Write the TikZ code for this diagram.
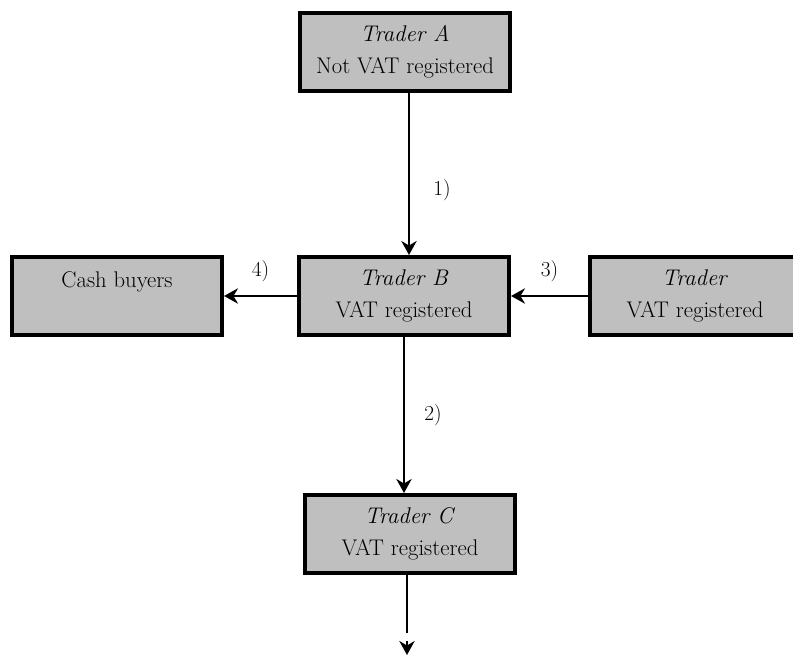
\documentclass[tikz,border=0pt]{standalone}
\usepackage{amsmath,amssymb}
\usepackage{xcolor}
\usepackage{tikz}
\usetikzlibrary{arrows.meta}

\begin{document}
\begin{tikzpicture}[x=0.75pt, y=-0.75pt,
    trader/.style={draw, line width=3pt, fill=gray!50, minimum width=157.5pt,
      minimum height=58.5pt, align=center, inner sep=2pt,
      font=\fontsize{17pt}{24pt}\selectfont},
    arr/.style={line width=2pt, -{Stealth[length=10.5pt, width=11.5pt]}},
    num/.style={font=\fontsize{16pt}{18pt}\selectfont}]
  \useasboundingbox (0,0) rectangle (793,655);

  % Nodes
  \node[trader] (A) at (405,52) {\textit{Trader A}\\Not VAT registered};
  \node[trader] (B) at (404,296) {\textit{Trader B}\\VAT registered};
  \node[trader] (C) at (410,534) {\textit{Trader C}\\VAT registered};
  \node[trader] (cash) at (117,296) {Cash buyers\\\mbox{}};
  \node[trader] (other) at (695,296) {\textit{Trader}\\VAT registered};
  \coordinate (gap) at (407,633);
  \coordinate (out) at (407,655);

  % Edges
  \draw[arr] ([xshift=3pt]A.south) -- ([xshift=3pt]A.south |- B.north)
    node[num, pos=0.6, right=14pt] {1)};
  \draw[arr] (B.south) -- (B.south |- C.north)
    node[num, midway, right=11pt] {2)};
  \draw[arr] (other.west) -- (B.east) node[num, midway, above=6pt] {3)};
  \draw[arr] (B.west) -- (cash.east) node[num, midway, above=6pt] {4)};
  \draw[line width=2pt] (C.south -| gap) -- (gap);
  \draw[arr, shorten <=6pt] (gap) -- (out);
\end{tikzpicture}
\end{document}
